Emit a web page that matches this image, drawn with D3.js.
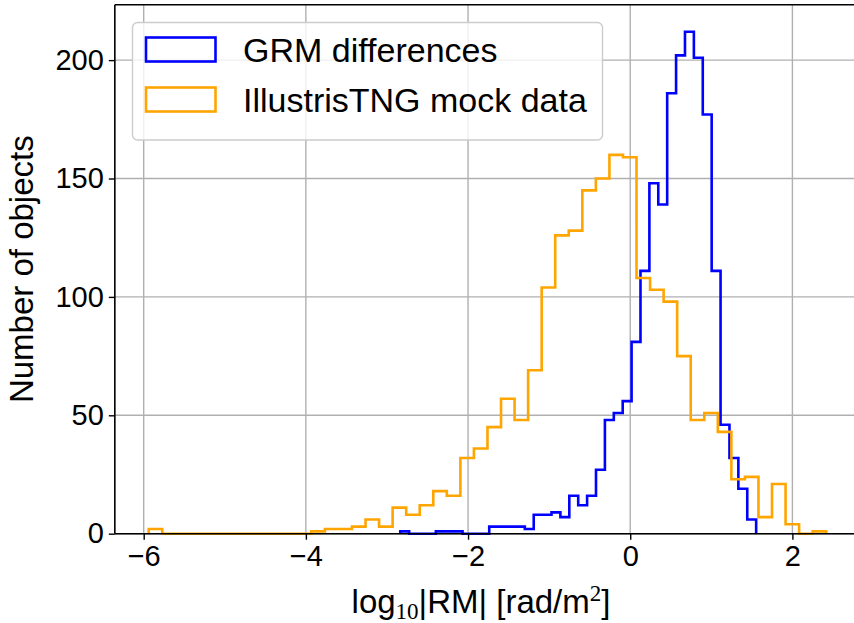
<!DOCTYPE html>
<html><head><meta charset="utf-8">
<script src="https://cdn.jsdelivr.net/npm/d3@7"></script>
<style>body{margin:0;background:#fff}svg{display:block}</style>
</head><body>
<script>
// ---- data ----
const blueName = "GRM differences";
const orangeName = "IllustrisTNG mock data";
const blueRange = [-2.836, 1.553];   // histogram bin range (40 bins)
const blueCounts = [1,0,0,0,1,1,1,0,0,0,3,3,3,3,2,8,8,9,7,16,12,16,27,48,51,56,81,111,148,139,186,202,212,201,177,111,46,32,19,6];
const orangeRange = [-5.938, 2.417]; // histogram bin range (50 bins)
const orangeCounts = [2,0,0,0,0,0,0,0,0,0,0,0,1,2,2,3,6,3,11,8,12,18,16,32,36,45,57,48,69,104,126,128,145,150,160,159,108,103,98,75,48,51,43,23,24,7,21,4,0,1];
const xTicks = [-6,-4,-2,0,2];
const yTicks = [0,50,100,150,200];
const xDomain = [-6.356, 2.835];
const yDomain = [0, 223.4];

const W = 854, H = 623;
const svg = d3.select("body").append("svg").attr("width", W).attr("height", H);
const x = d3.scaleLinear().domain([-6, 2]).range([143.7, 792.4]);
const y = d3.scaleLinear().domain(yDomain).range([533.7, 4.7]);
const x0 = x(xDomain[0]), x1 = x(xDomain[1]), y0 = y(yDomain[0]), y1 = y(yDomain[1]);
const FONT = "'Liberation Sans', Arial, Helvetica, sans-serif";
const SERIF = "'Liberation Serif','DejaVu Serif',serif";

// grid
const grid = svg.append("g").attr("stroke", "#b0b0b0").attr("stroke-width", 1.4);
xTicks.forEach(t => grid.append("line").attr("x1", x(t)).attr("x2", x(t)).attr("y1", y0).attr("y2", y1));
yTicks.forEach(t => grid.append("line").attr("x1", x0).attr("x2", x1).attr("y1", y(t)).attr("y2", y(t)));

function edges(range, n) {
  const w = (range[1] - range[0]) / n;
  return d3.range(n + 1).map(i => range[0] + i * w);
}
function stepPath(range, counts) {
  const e = edges(range, counts.length);
  const pts = [[e[0], 0]];
  counts.forEach((c, i) => { pts.push([e[i], c]); pts.push([e[i + 1], c]); });
  pts.push([e[counts.length], 0]);
  return d3.line().x(d => x(d[0])).y(d => y(d[1]))(pts);
}
const plot = svg.append("g");
plot.append("path").attr("d", stepPath(blueRange, blueCounts)).attr("fill", "none")
  .attr("stroke", "#0000ff").attr("stroke-width", 2.6).attr("stroke-linejoin", "miter");
plot.append("path").attr("d", stepPath(orangeRange, orangeCounts)).attr("fill", "none")
  .attr("stroke", "#ffa500").attr("stroke-width", 2.6).attr("stroke-linejoin", "miter");

// axes
const xAxis = d3.axisBottom(x).tickValues(xTicks).tickSize(6).tickPadding(5)
  .tickFormat(d => (d < 0 ? "\u2212" : "") + Math.abs(d));
const gx = svg.append("g").attr("transform", `translate(0,${y0})`).call(xAxis);
gx.select(".domain").remove();
const yAxis = d3.axisLeft(y).tickValues(yTicks).tickSize(6).tickPadding(5);
const gy = svg.append("g").attr("transform", `translate(${x0},0)`).call(yAxis);
gy.select(".domain").remove();
[gx, gy].forEach(g => {
  g.selectAll(".tick line").attr("stroke", "#000").attr("stroke-width", 1.4);
  g.selectAll(".tick text").attr("fill", "#000").style("font-family", FONT).style("font-size", "29px");
});
gx.selectAll(".tick text").attr("dy", "0.72em");
// spines
const sp = svg.append("g").attr("stroke", "#000").attr("stroke-width", 1.6).attr("fill", "none");
sp.append("line").attr("x1", x0).attr("x2", x1).attr("y1", y0).attr("y2", y0);
sp.append("line").attr("x1", x0).attr("x2", x0).attr("y1", y0).attr("y2", y1);
sp.append("line").attr("x1", x0).attr("x2", x1).attr("y1", y1).attr("y2", y1);
sp.append("line").attr("x1", x1).attr("x2", x1).attr("y1", y0).attr("y2", y1);

// axis labels
const xl = svg.append("text").attr("x", 481).attr("y", 613).attr("text-anchor", "middle")
  .style("font-family", FONT).style("font-size", "33px").attr("fill", "#000");
xl.append("tspan").text("log");
xl.append("tspan").text("10").attr("dy", 6).style("font-family", SERIF).style("font-size", "23px");
xl.append("tspan").text("|RM| [rad/m").attr("dy", -6);
xl.append("tspan").text("2").attr("dy", -12).style("font-family", SERIF).style("font-size", "23px");
xl.append("tspan").text("]").attr("dy", 12);

svg.append("text").attr("transform", `translate(33,${(y0 + y1) / 2}) rotate(-90)`)
  .attr("text-anchor", "middle").style("font-family", FONT).style("font-size", "33px").attr("fill", "#000")
  .text("Number of objects");

// legend
const lg = svg.append("g");
lg.append("rect").attr("x", 132.5).attr("y", 22.5).attr("width", 470).attr("height", 117.5).attr("rx", 5)
  .attr("fill", "#fff").attr("fill-opacity", 0.8).attr("stroke", "#cccccc").attr("stroke-width", 1.4);
[[blueName, "#0000ff", 37.5], [orangeName, "#ffa500", 87.5]].forEach(([name, col, yy]) => {
  lg.append("rect").attr("x", 146).attr("y", yy).attr("width", 69.5).attr("height", 24)
    .attr("fill", "none").attr("stroke", col).attr("stroke-width", 2.6);
  lg.append("text").attr("x", 243).attr("y", yy + 24).style("font-family", FONT).style("font-size", "34px")
    .attr("fill", "#000").text(name);
});
</script>
</body></html>
